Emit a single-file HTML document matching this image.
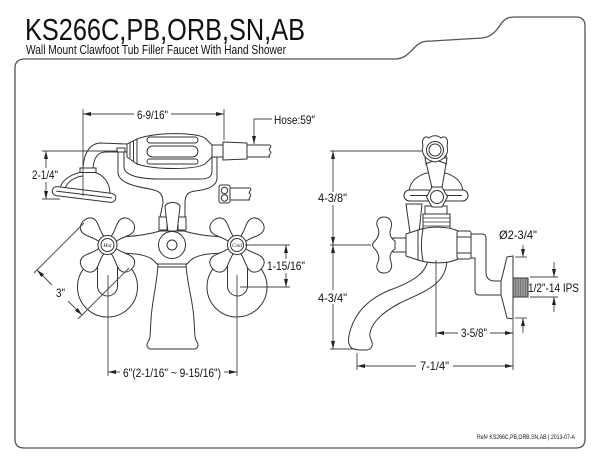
<!DOCTYPE html>
<html><head><meta charset="utf-8"><style>
html,body{margin:0;padding:0;background:#fff;}
svg{display:block;}
text{font-family:"Liberation Sans",Arial,sans-serif;fill:#111;}
</style></head><body>
<svg width="600" height="464" viewBox="0 0 600 464" xmlns="http://www.w3.org/2000/svg">
<defs>
<marker id="ar" viewBox="0 0 8 4" refX="8" refY="2" markerWidth="8" markerHeight="4" markerUnits="userSpaceOnUse" orient="auto"><path d="M0,0 L8,2 L0,4 Z" fill="#222"/></marker>
<path id="arm" d="M-3.5,-8 C-4,-15 -9,-21 -9,-26 C-9,-32 -4,-34 0,-34 C4,-34 9,-32 9,-26 C9,-21 4,-15 3.5,-8 Z"/>
</defs>
<rect width="600" height="464" fill="#fff"/>

<!-- frame -->
<path d="M25,59 L395,59 C405,59 410,52 415,47 C420,42 424,41 432,41 L482,38 C492,37 497,30 501,24 C505,18 509,17 515,17 L576,17 Q585,17 585,26 L585,439 Q585,448 576,448 L24,448 Q15,448 15,439 L15,68 Q15,59 25,59 Z" fill="none" stroke="#555" stroke-width="1.3"/>

<!-- titles -->
<text x="25" y="40" font-size="30.5" textLength="280" lengthAdjust="spacingAndGlyphs">KS266C,PB,ORB,SN,AB</text>
<text x="26" y="54" font-size="12.5" textLength="260" lengthAdjust="spacingAndGlyphs">Wall Mount Clawfoot Tub Filler Faucet With Hand Shower</text>

<!-- ================= FRONT VIEW ================= -->
<g fill="none" stroke="#333" stroke-width="1">
  <!-- hose 1 -->
  <path d="M247,145 L270,145 M247,157 L270,157 M270,145 C273,147 267,149 270,151 C273,153 267,155 270,157"/>
  <!-- ferrule -->
  <path d="M223,142 L247,143 L247,159 L223,160 Z" fill="#fff"/>
  <rect x="212" y="145" width="11" height="12" fill="#fff"/>
  <!-- handset body -->
  <path d="M137,139 C155,132 195,132 205,138 L212,145 L212,157 L205,164 C195,170 155,170 137,164 Z" fill="#fff"/>
  <rect x="147" y="137" width="51" height="6" rx="3"/>
  <rect x="147" y="146" width="51" height="11" rx="5.5"/>
  <rect x="147" y="159" width="51" height="5" rx="2.5"/>
  <!-- collar -->
  <path d="M127,144 L137,139 L137,164 L127,157 Z" fill="#fff"/>
  <path d="M130,143 L130,158 M133.5,141 L133.5,161"/>
  <!-- arm to shower head -->
  <path d="M83,171 C83,158 87,144 100,143 L127,144"/>
  <path d="M93,171 C93,161 96,152 106,152 L127,152"/>
  <!-- shower head -->
  <path d="M60,190 C60,181 71,174 82,172 L94,172 C104,175 110,183 110,194" fill="#fff"/>
  <path d="M65,189 C67,182 74,177 83,176"/>
  <rect x="80" y="168" width="16" height="4.5" fill="#fff"/>
  <g transform="rotate(7 84 194.5)">
    <rect x="52" y="190" width="64" height="9" rx="4.5" fill="#fff"/>
    <line x1="56" y1="194.5" x2="112" y2="194.5"/>
  </g>
  <!-- yoke -->
  <rect x="117" y="148" width="8" height="4" fill="#fff"/>
  <path d="M118,152 L118,172 C118,182 132,186 150,189 C160,191 163,194 163,203"/>
  <path d="M124,152 L124,168 C126,176 140,179 160,179 L200,179 C208,179 212,177 212,171 L212,157"/>
  <path d="M217,157 L217,178 C217,187 205,190 195,191 C188,192 185,195 185,203"/>
  <!-- hose 2 -->
  <path d="M230,188 L250,188 M230,200 L250,200 M250,188 C253,190 247,192 250,194 C253,196 247,198 250,200"/>
  <rect x="219" y="185" width="11" height="18" rx="2" fill="#fff"/>
  <circle cx="224.5" cy="190.5" r="3.2"/>
  <circle cx="224.5" cy="198" r="3.2"/>
  <!-- diverter -->
  <path d="M163,203 L160,217 M185,203 L185,217"/>
  <rect x="159" y="217" width="8" height="13" fill="#fff"/>
  <rect x="178" y="217" width="8" height="13" fill="#fff"/>
  <path d="M165,207 C165,201 180,201 180,207 L177,232 L168,232 Z" fill="#fff"/>
  <!-- escutcheons -->
  <circle cx="107.5" cy="287" r="30" fill="#fff"/>
  <circle cx="237" cy="287" r="30" fill="#fff"/>
  <!-- spindles -->
  <rect x="97.5" y="250" width="20" height="46" rx="10" fill="#fff"/>
  <rect x="227.5" y="250" width="20" height="46" rx="10" fill="#fff"/>
  <!-- spout body -->
  <path d="M158,264 C157,285 152,300 151,320 C150,332 151,338 148,342 C146,345 147,348 150,349 L195,349 C198,348 199,345 197,342 C194,338 195,332 194,320 C193,300 187,285 186,264" fill="#fff"/>
  <line x1="157.5" y1="267" x2="186.5" y2="267"/>
  <!-- cross body -->
  <path d="M112,237 C135,237 150,234 160,231 L184,231 C194,234 209,237 232,237 L232,253 C212,253 198,254 191,260 L187,264 L157,264 L153,260 C146,254 132,253 112,253 Z" fill="#fff"/>
  <circle cx="172" cy="245" r="13.5" fill="#fff"/>
  <circle cx="172" cy="245" r="5"/>
  <!-- left handle -->
  <g transform="translate(107.5,245)" fill="#fff">
    <use href="#arm" transform="rotate(45)"/>
    <use href="#arm" transform="rotate(135)"/>
    <use href="#arm" transform="rotate(225)"/>
    <use href="#arm" transform="rotate(315)"/>
    <circle r="9.5"/>
    <circle r="6.5"/>
  </g>
  <!-- right handle -->
  <g transform="translate(237,245)" fill="#fff">
    <use href="#arm" transform="rotate(45)"/>
    <use href="#arm" transform="rotate(135)"/>
    <use href="#arm" transform="rotate(225)"/>
    <use href="#arm" transform="rotate(315)"/>
    <circle r="9.5"/>
    <circle r="6.5"/>
  </g>
</g>
<text x="107.5" y="247" font-size="5.5" text-anchor="middle" font-style="italic" style="font-family:'Liberation Serif',serif">Hot</text>
<text x="237" y="247" font-size="5" text-anchor="middle" font-style="italic" style="font-family:'Liberation Serif',serif">Cold</text>

<!-- ================= SIDE VIEW ================= -->
<g fill="none" stroke="#333" stroke-width="1">
  <!-- spout -->
  <path d="M428,260 C426,272 415,281 390,290 C370,298 357,310 351,328 C348,337 348,343 350,346 C352,350 358,350 362,350 L366,350 C371,350 373,346 372,342 C371,339 369,337 370,333 C372,322 383,312 400,303 C425,291 446,285 447,260 Z" fill="#fff"/>
  <rect x="425" y="256" width="23" height="5" fill="#fff"/>
  <!-- supply pipe -->
  <path d="M471,234 L482,234 Q486,234 486,238 L486,272 Q486,281 495,281 L502,281"/>
  <path d="M471,258 L475,258 L475,291 Q475,295 479,295 L502,295"/>
  <!-- flange -->
  <path d="M513,256 L507,257 C505,265 503,274 501,281 L501,295 C503,302 505,310 507,318 L513,319 Z" fill="#fff"/>
  <!-- nipple -->
  <rect x="513" y="278" width="15" height="19" fill="#9a9a9a"/>
  <path d="M515.5,278 V297 M518,278 V297 M520.5,278 V297 M523,278 V297 M525.5,278 V297" stroke="#666" stroke-width="0.7"/>
  <!-- lever -->
  <path d="M406,204 L422,204 L419,233 L410,233 Z" fill="#fff"/>
  <!-- neck / thread -->
  <rect x="425" y="206" width="22" height="8" fill="#fff"/>
  <rect x="423" y="214" width="27" height="15" fill="#fff"/>
  <path d="M423,218 H450 M423,222 H450 M423,226 H450" stroke-width="0.7"/>
  <!-- barrel body -->
  <path d="M418,230 C430,226 448,226 458,231 L458,259 C448,264 430,264 418,260 Z" fill="#fff"/>
  <path d="M423,229 C421,239 421,251 423,261"/>
  <path d="M406,234 L418,230 L418,260 L406,256 Z" fill="#fff"/>
  <rect x="393" y="238" width="13" height="14" fill="#fff"/>
  <!-- right nut -->
  <rect x="457" y="231" width="14" height="28" rx="2" fill="#fff"/>
  <path d="M457,237 H471 M457,253 H471"/>
  <!-- side handle -->
  <path d="M395,241 C390,238 389,233 391,228 C393,222 390,217 384,217 C378,217 375,222 378,228 C380,233 378,238 374,242 Q371,245 374,248 C378,252 380,257 378,262 C375,268 378,273 384,273 C390,273 393,268 391,262 C389,257 390,252 395,249 Z" fill="#fff"/>
  <!-- dome -->
  <path d="M409,193 C409,180 421,172 436,172 C451,172 463,180 463,193" fill="#fff"/>
  <rect x="404" y="190" width="64" height="11" rx="5.5" fill="#fff"/>
  <path d="M410,195.5 H462"/>
  <!-- stem from ring -->
  <path d="M425,158 L447,158 L442,188 L432,188 Z" fill="#fff"/>
  <path d="M425,156 L447,164 M447,156 L425,164"/>
  <!-- hex -->
  <path d="M432,187 L442,187 L447.5,197 L442,207 L432,207 L426.5,197 Z" fill="#fff"/>
  <circle cx="437" cy="197" r="6.5"/>
  <!-- ring -->
  <path d="M423,146 C421,139 425,135 429,138 C432,135 438,135 441,138 C445,135 449,139 447,146 C449,152 446,160 435,162 C424,160 421,152 423,146 Z" fill="#fff"/>
  <circle cx="435" cy="150" r="8.5"/>
  <circle cx="435" cy="150" r="6"/>
</g>

<!-- ================= DIMENSIONS ================= -->
<g fill="none" stroke="#444" stroke-width="0.9">
  <!-- 6-9/16 -->
  <line x1="83" y1="109" x2="83" y2="196"/>
  <line x1="224" y1="109" x2="224" y2="140"/>
  <line x1="134" y1="114" x2="83" y2="114" marker-end="url(#ar)"/>
  <line x1="171" y1="114" x2="224" y2="114" marker-end="url(#ar)"/>
  <!-- hose leader -->
  <polyline points="272,119 254,119 254,144" marker-end="url(#ar)"/>
  <!-- 2-1/4 -->
  <line x1="42" y1="151" x2="118" y2="151"/>
  <line x1="42" y1="199" x2="60" y2="199"/>
  <line x1="46" y1="168" x2="46" y2="151" marker-end="url(#ar)"/>
  <line x1="46" y1="182" x2="46" y2="199" marker-end="url(#ar)"/>
  <!-- 3" -->
  <line x1="34" y1="273" x2="84" y2="223"/>
  <line x1="78" y1="319" x2="129" y2="268"/>
  <line x1="52" y1="285" x2="37" y2="270" marker-end="url(#ar)"/>
  <line x1="68" y1="301" x2="82" y2="315" marker-end="url(#ar)"/>
  <!-- 1-15/16 -->
  <line x1="245" y1="245" x2="290" y2="245"/>
  <line x1="240" y1="287" x2="290" y2="287"/>
  <line x1="286" y1="259" x2="286" y2="245" marker-end="url(#ar)"/>
  <line x1="286" y1="273" x2="286" y2="287" marker-end="url(#ar)"/>
  <!-- 6" -->
  <line x1="108" y1="275" x2="108" y2="376"/>
  <line x1="237" y1="275" x2="237" y2="376"/>
  <line x1="120" y1="372" x2="108" y2="372" marker-end="url(#ar)"/>
  <line x1="224" y1="372" x2="237" y2="372" marker-end="url(#ar)"/>
  <!-- 4-3/8 & 4-3/4 -->
  <line x1="330" y1="151" x2="423" y2="151"/>
  <line x1="330" y1="245" x2="371" y2="245"/>
  <line x1="330" y1="349" x2="356" y2="349"/>
  <line x1="333" y1="192" x2="333" y2="151" marker-end="url(#ar)"/>
  <line x1="333" y1="205" x2="333" y2="245" marker-end="url(#ar)"/>
  <line x1="333" y1="290" x2="333" y2="245" marker-end="url(#ar)"/>
  <line x1="333" y1="304" x2="333" y2="349" marker-end="url(#ar)"/>
  <!-- 7-1/4 -->
  <line x1="357" y1="353" x2="357" y2="370"/>
  <line x1="513" y1="320" x2="513" y2="370"/>
  <line x1="416" y1="366" x2="357" y2="366" marker-end="url(#ar)"/>
  <line x1="453" y1="366" x2="513" y2="366" marker-end="url(#ar)"/>
  <!-- 3-5/8 -->
  <line x1="436" y1="260" x2="436" y2="337"/>
  <line x1="458" y1="333" x2="436" y2="333" marker-end="url(#ar)"/>
  <line x1="490" y1="333" x2="513" y2="333" marker-end="url(#ar)"/>
  <!-- dia 2-3/4 -->
  <line x1="515" y1="257" x2="527" y2="257"/>
  <line x1="515" y1="318" x2="527" y2="318"/>
  <line x1="523" y1="245" x2="523" y2="257" marker-end="url(#ar)"/>
  <line x1="523" y1="333" x2="523" y2="318" marker-end="url(#ar)"/>
  <!-- IPS -->
  <line x1="530" y1="277" x2="558" y2="277"/>
  <line x1="530" y1="297" x2="558" y2="297"/>
  <line x1="554" y1="262" x2="554" y2="277" marker-end="url(#ar)"/>
  <line x1="554" y1="312" x2="554" y2="297" marker-end="url(#ar)"/>
</g>

<!-- dimension labels -->
<g font-size="12">
  <text x="137" y="119" textLength="31" lengthAdjust="spacingAndGlyphs">6-9/16"</text>
  <text x="274" y="124" textLength="41" lengthAdjust="spacingAndGlyphs">Hose:59"</text>
  <text x="32" y="179" textLength="26" lengthAdjust="spacingAndGlyphs">2-1/4"</text>
  <text x="56" y="297" textLength="9" lengthAdjust="spacingAndGlyphs">3"</text>
  <text x="267" y="270" textLength="38" lengthAdjust="spacingAndGlyphs">1-15/16"</text>
  <text x="123" y="377" textLength="98" lengthAdjust="spacingAndGlyphs">6"(2-1/16" ~ 9-15/16")</text>
  <text x="318" y="202" textLength="29" lengthAdjust="spacingAndGlyphs">4-3/8"</text>
  <text x="318" y="302" textLength="29" lengthAdjust="spacingAndGlyphs">4-3/4"</text>
  <text x="499" y="239" textLength="38" lengthAdjust="spacingAndGlyphs">Ø2-3/4"</text>
  <text x="528" y="292" textLength="51" lengthAdjust="spacingAndGlyphs">1/2"-14 IPS</text>
  <text x="461" y="337" textLength="26" lengthAdjust="spacingAndGlyphs">3-5/8"</text>
  <text x="420" y="370" textLength="29" lengthAdjust="spacingAndGlyphs">7-1/4"</text>
</g>

<text x="477" y="439" font-size="6.5" textLength="98" lengthAdjust="spacingAndGlyphs">Ref# KS266C,PB,ORB,SN,AB | 2013-07-A</text>
</svg>
</body></html>
